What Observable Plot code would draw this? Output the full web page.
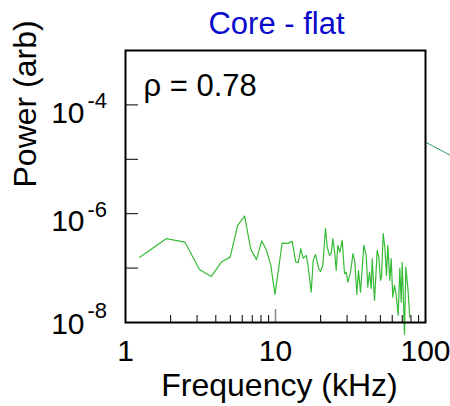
<!DOCTYPE html>
<html>
<head>
<meta charset="utf-8">
<script src="https://cdn.jsdelivr.net/npm/d3@7"></script>
<script src="https://cdn.jsdelivr.net/npm/@observablehq/plot@0.6"></script>
<style>
  html, body { margin: 0; padding: 0; background: #fff; }
  svg { font-family: "Liberation Sans", Arial, sans-serif; }
</style>
</head>
<body>
<div id="chart"></div>
<script>
const title = "Core - flat";
const xLabel = "Frequency (kHz)";
const yLabel = "Power (arb)";
const rhoLabel = "ρ = 0.78";

// spectrum (kHz, arb)
const freq = [1.245, 1.868, 2.489, 3.113, 3.733, 4.358, 4.982, 5.598, 6.223, 6.843,
  7.469, 8.091, 8.710, 9.304, 9.92, 11.08, 12.08, 12.92, 13.65, 14.17,
  14.75, 15.30, 16.02, 16.42, 17.30, 17.84, 18.48, 19.44, 19.95, 20.67,
  21.54, 22.12, 22.91, 23.51, 24.10, 24.85, 25.39, 26.02, 26.83, 27.84,
  28.84, 29.60, 30.34, 31.62, 32.86, 33.79, 34.83, 35.75, 36.87, 38.79,
  40.25, 41.24, 42.34, 43.45, 44.12, 45.71, 47.64, 48.83, 50.12, 50.90,
  52.24, 53.55, 54.95, 56.06, 57.81, 59.06, 60.53, 62.13, 63.78, 65.77,
  67.42, 68.87, 69.95, 72.44, 73.91, 76.21, 78.58];
const power = [1.59e-7, 3.48e-7, 3.01e-7, 9.46e-8, 7.03e-8, 1.29e-7, 1.59e-7, 6.11e-7, 9.07e-7, 2.21e-7,
  1.43e-7, 3.17e-7, 2.12e-7, 1.12e-7, 3.28e-8, 2.89e-7, 2.85e-7, 3.10e-7, 1.29e-7, 1.26e-7,
  2.28e-7, 1.51e-7, 1.71e-7, 1.20e-7, 3.61e-8, 1.39e-7, 1.77e-7, 9.75e-8, 8.69e-8, 1.12e-7,
  5.32e-7, 2.44e-7, 1.71e-7, 1.84e-7, 3.48e-7, 1.84e-7, 9.07e-8, 2.62e-7, 1.97e-7, 3.24e-7,
  7.88e-8, 8.44e-8, 5.52e-8, 8.34e-8, 1.84e-7, 1.33e-7, 3.28e-8, 9.07e-8, 3.61e-8, 2.62e-7,
  1.71e-7, 4.47e-8, 8.44e-8, 4.18e-8, 1.49e-7, 2.54e-8, 2.12e-7, 1.59e-7, 5.94e-8, 6.83e-8,
  4.30e-7, 2.44e-7, 7.34e-8, 2.62e-7, 5.94e-8, 1.49e-7, 2.92e-8, 4.80e-8, 3.14e-8, 1.35e-8,
  9.87e-8, 2.37e-8, 1.27e-7, 6.01e-9, 1.04e-7, 4.47e-8, 1.25e-8];

// line entering from the right edge
const fitFreq = [100, 160];
const fitPower = [2.07e-5, 1.04e-5];

const xTickLabels = [1, 10, 100];
const xMinorTicks = [2, 3, 4, 5, 6, 7, 8, 9, 20, 30, 40, 50, 60, 70, 80, 90];
const xMajorTicks = [10];
const yTicks = [1e-7, 1e-6, 1e-5, 1e-4];
const yTickLabels = [1e-4, 1e-6];
const yTickLabelsLow = [1e-8];

const spectrum = freq.map((f, i) => ({f, p: power[i]}));
const fit = fitFreq.map((f, i) => ({f, p: fitPower[i]}));
const expOf = d => String(Math.round(Math.log10(d)));

const chart = Plot.plot({
  width: 450,
  height: 406,
  marginLeft: 125,
  marginRight: 25,
  marginTop: 50,
  marginBottom: 84,
  style: {fontFamily: "'Liberation Sans', Arial, sans-serif", background: "#fff"},
  x: {type: "log", domain: [1, 100], axis: null},
  y: {type: "log", domain: [1e-8, 1e-3], axis: null},
  marks: [
    Plot.line(spectrum, {x: "f", y: "p", stroke: "#36bb36", strokeWidth: 1.2}),
    Plot.line(fit, {x: "f", y: "p", stroke: "#2a9a5a", strokeWidth: 1}),
    Plot.tickX(xMinorTicks, {x: d => d, insetTop: 265, stroke: "#000", strokeWidth: 1}),
    Plot.tickX(xMajorTicks, {x: d => d, insetTop: 259, stroke: "#888", strokeWidth: 1.5}),
    Plot.tickY(yTicks, {y: d => d, insetRight: 287, stroke: "#000", strokeWidth: 1}),
    Plot.frame({stroke: "#000", strokeWidth: 2}),
    Plot.text(xTickLabels, {x: d => d, text: d => String(d), frameAnchor: "bottom", lineAnchor: "top", dy: 17, fontSize: 30, fill: "#000"}),
    Plot.text(yTickLabels, {y: d => d, text: () => "10", frameAnchor: "left", textAnchor: "end", dx: -41, dy: 8, fontSize: 30, fill: "#000"}),
    Plot.text(yTickLabels, {y: d => d, text: expOf, frameAnchor: "left", textAnchor: "start", dx: -38, dy: -4, fontSize: 22, fill: "#000"}),
    Plot.text(yTickLabelsLow, {y: d => d, text: () => "10", frameAnchor: "left", textAnchor: "end", dx: -41, dy: 2, fontSize: 30, fill: "#000"}),
    Plot.text(yTickLabelsLow, {y: d => d, text: expOf, frameAnchor: "left", textAnchor: "start", dx: -38, dy: -12, fontSize: 22, fill: "#000"}),
    Plot.text([xLabel], {text: d => d, frameAnchor: "bottom", lineAnchor: "top", dx: 4, dy: 51, fontSize: 32, fill: "#000"}),
    Plot.text([yLabel], {text: d => d, frameAnchor: "left", rotate: -90, dx: -100, dy: 1, fontSize: 32, fill: "#000"}),
    Plot.text([title], {text: d => d, frameAnchor: "top", lineAnchor: "top", dx: 1, dy: -39, fontSize: 31, fill: "#0a0acc"}),
    Plot.text([rhoLabel], {text: d => d, frameAnchor: "top-left", textAnchor: "start", lineAnchor: "top", dx: 18, dy: 23, fontSize: 31, fill: "#000"})
  ]
});
document.getElementById("chart").appendChild(chart);
</script>
</body>
</html>
